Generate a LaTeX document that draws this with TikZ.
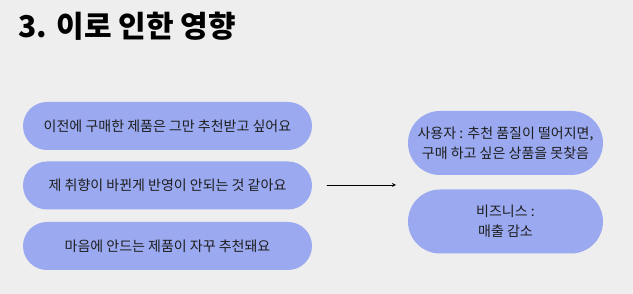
\documentclass[tikz,border=0pt]{standalone}
\usepackage{fontspec}
\setmainfont{Noto Sans CJK KR}
\definecolor{pillblue}{RGB}{154,169,240}
\definecolor{bggray}{RGB}{238,238,238}
\definecolor{ink}{RGB}{30,30,30}

\begin{document}
\begin{tikzpicture}[x=1pt, y=-1pt, >=stealth, line cap=round, line join=round,
    pill/.style={fill=pillblue, inner sep=0pt, align=center, text=ink,
      font=\fontsize{14}{20}\selectfont},
    leftpill/.style={pill, minimum width=289pt, minimum height=48pt, rounded corners=24pt},
    rightpill/.style={pill, minimum width=195pt, minimum height=64pt, rounded corners=32pt}]
  % Background
  \fill[bggray] (0,0) rectangle (633,294);
  \useasboundingbox (0,0) rectangle (633,294);

  % Title
  \node[anchor=west, font=\bfseries\fontsize{30}{32}\selectfont] (title) at (15,26) {3. 이로 인한 영향};

  % Complaints
  \node[leftpill] (prev)  at (167.5,126)   {이전에 구매한 제품은 그만 추천받고 싶어요};
  \node[leftpill] (taste) at (167.5,185.5) {제 취향이 바뀐게 반영이 안되는 것 같아요};
  \node[leftpill] (dislike) at (167.5,246) {마음에 안드는 제품이 자꾸 추천돼요};

  % Arrow
  \coordinate (arrS) at (327,185);
  \coordinate (arrE) at (396,185);
  \draw[->, line width=0.8pt] (arrS) -- (arrE);

  % Effects
  \node[rightpill] (user) at (505.5,143)   {사용자 : 추천 품질이 떨어지면,\\구매 하고 싶은 상품을 못찾음};
  \node[rightpill] (biz)  at (505.5,221.5) {비즈니스 :\\매출 감소};
\end{tikzpicture}
\end{document}
